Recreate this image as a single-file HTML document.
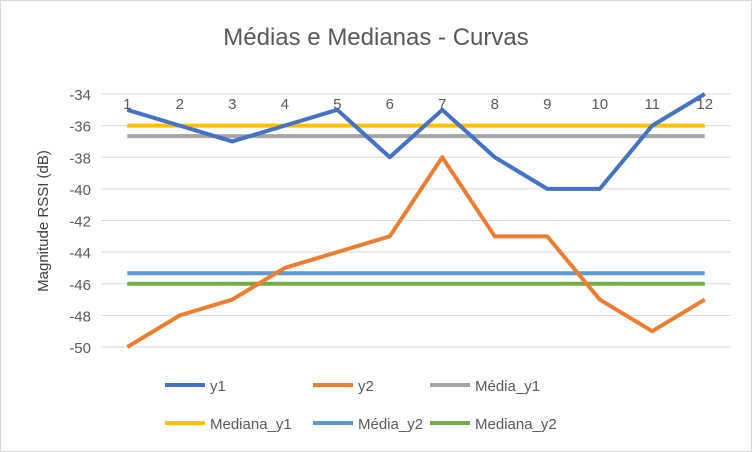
<!DOCTYPE html>
<html><head><meta charset="utf-8"><style>
body{margin:0;background:#fff}
svg{display:block;font-family:"Liberation Sans",sans-serif}
</style></head><body>
<svg id="chart" width="752" height="452">
<rect x="0.5" y="0.5" width="751" height="451" fill="#fff" stroke="#d9d9d9"/>
<text x="376" y="45" text-anchor="middle" font-size="24" fill="#595959">Médias e Medianas - Curvas</text>
<text transform="translate(48,221) rotate(-90)" text-anchor="middle" font-size="15" fill="#404040">Magnitude RSSI (dB)</text>
<g id="grid"></g><g id="series"></g><g id="labels"></g><g id="legend"></g>
</svg>
<script>
const categories=[1,2,3,4,5,6,7,8,9,10,11,12];
const y1=[-35,-36,-37,-36,-35,-38,-35,-38,-40,-40,-36,-34];
const y2=[-50,-48,-47,-45,-44,-43,-38,-43,-43,-47,-49,-47];
const yTicks=[-34,-36,-38,-40,-42,-44,-46,-48,-50];
const mean=a=>a.reduce((s,v)=>s+v,0)/a.length;
const median=a=>{const s=[...a].sort((p,q)=>p-q);const n=s.length;return n%2?s[(n-1)/2]:(s[n/2-1]+s[n/2])/2;};
const NS="http://www.w3.org/2000/svg";
const L=101,R=731,T=94,B=347,yMax=-34,yMin=-50;
const X=i=>L+(R-L)/categories.length*(i+0.5);
const Y=v=>T+(yMax-v)/(yMax-yMin)*(B-T);
function mk(tag,attrs,parent){const e=document.createElementNS(NS,tag);for(const k in attrs)e.setAttribute(k,attrs[k]);document.getElementById(parent).appendChild(e);return e;}
yTicks.forEach(t=>{
 const g=mk('line',{x1:L,x2:R,y1:Y(t),y2:Y(t),stroke:'#d9d9d9','stroke-width':1},'grid');
 
 
 const tx=mk('text',{x:91,y:Y(t)+6,'text-anchor':'end','font-size':15,fill:'#595959'},'labels');
 tx.textContent=t;
 
 
});
categories.forEach((c,i)=>{
 const tx=mk('text',{x:X(i),y:109,'text-anchor':'middle','font-size':15,fill:'#595959'},'labels');
 tx.textContent=c;
 
 
});
const hl=[['Média_y1',mean(y1),'#a5a5a5'],['Mediana_y1',median(y1),'#ffc000'],['Média_y2',mean(y2),'#5b9bd5'],['Mediana_y2',median(y2),'#70ad47']];
hl.forEach(h=>{
 const l=mk('line',{x1:X(0),x2:X(11),y1:Y(h[1]),y2:Y(h[1]),stroke:h[2],'stroke-width':4},'series');
 
 
});
[[y1,'#4472c4','line-y1'],[y2,'#ed7d31','line-y2']].forEach(s=>{
 const p=mk('polyline',{points:s[0].map((v,i)=>X(i)+','+Y(v)).join(' '),fill:'none',stroke:s[1],'stroke-width':4,'stroke-linejoin':'round'},'series');
 
 
});
const leg=[['y1','#4472c4',165,385],['y2','#ed7d31',313,385],['Média_y1','#a5a5a5',430,385],['Mediana_y1','#ffc000',165,423],['Média_y2','#5b9bd5',313,423],['Mediana_y2','#70ad47',430,423]];
leg.forEach(e=>{
 const l=mk('line',{x1:e[2],x2:e[2]+40,y1:e[3],y2:e[3],stroke:e[1],'stroke-width':4},'legend');
 
 
 const t=mk('text',{x:e[2]+45,y:e[3]+6,'font-size':15,fill:'#595959'},'legend');
 t.textContent=e[0];
 
 
});
</script>
</body></html>
